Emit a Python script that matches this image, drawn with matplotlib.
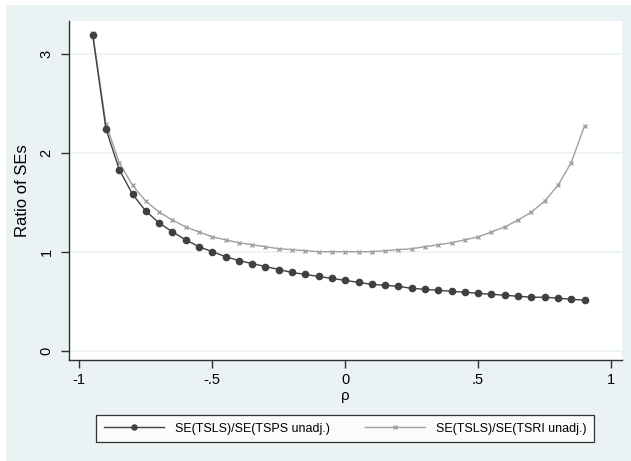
import numpy as np
import matplotlib
matplotlib.use("Agg")
import matplotlib.pyplot as plt
from matplotlib.patches import Rectangle

plt.rcParams['font.family'] = ['Liberation Sans', 'DejaVu Sans']

# correlation values
rho = [-0.95, -0.90, -0.85, -0.80, -0.75, -0.70, -0.65, -0.60, -0.55, -0.50,
       -0.45, -0.40, -0.35, -0.30, -0.25, -0.20, -0.15, -0.10, -0.05, 0.00,
       0.05, 0.10, 0.15, 0.20, 0.25, 0.30, 0.35, 0.40, 0.45, 0.50,
       0.55, 0.60, 0.65, 0.70, 0.75, 0.80, 0.85, 0.90]

# SE(TSLS)/SE(TSPS unadj.)
ratio_tsps = [3.19, 2.24, 1.83, 1.58, 1.41, 1.29, 1.20, 1.12, 1.05, 1.00,
              0.95, 0.91, 0.88, 0.85, 0.82, 0.79, 0.77, 0.75, 0.73, 0.71,
              0.69, 0.67, 0.66, 0.65, 0.63, 0.62, 0.61, 0.60, 0.59, 0.58,
              0.57, 0.56, 0.55, 0.54, 0.54, 0.53, 0.52, 0.51]

# SE(TSLS)/SE(TSRI unadj.)
ratio_tsri = [3.21, 2.29, 1.90, 1.67, 1.51, 1.40, 1.32, 1.25, 1.20, 1.15,
              1.12, 1.09, 1.07, 1.05, 1.03, 1.02, 1.01, 1.00, 1.00, 1.00,
              1.00, 1.00, 1.01, 1.02, 1.03, 1.05, 1.07, 1.09, 1.12, 1.15,
              1.20, 1.25, 1.32, 1.40, 1.51, 1.67, 1.90, 2.27]

labels = ['SE(TSLS)/SE(TSPS unadj.)', 'SE(TSLS)/SE(TSRI unadj.)']

W, H = 631, 461
bg = '#EAF2F3'
dark = '#404040'
light = '#A0A0A0'

fig = plt.figure(figsize=(W / 100, H / 100), dpi=100)
fig.patch.set_facecolor('white')
# outer graph region (light blue-gray)
fig.add_artist(Rectangle((6 / W, 0), 1 - 6 / W, 1 - 5 / H,
                         transform=fig.transFigure, facecolor=bg,
                         edgecolor='none', zorder=-10))

ax = fig.add_axes([69 / W, (H - 360) / H, (622 - 69) / W, (360 - 21) / H])
ax.set_facecolor('white')

ax.plot(rho, ratio_tsps, color=dark, lw=1.0, marker='o', ms=4.5,
        mec=dark, mfc=dark, label=labels[0], zorder=3)
ax.plot(rho, ratio_tsri, color=light, lw=1.0, marker='x', ms=3.5,
        mew=1.0, label=labels[1], zorder=2)

ax.set_xlim(-1.039, 1.041)
ax.set_ylim(-0.094, 3.33)
ax.set_xticks([-1, -0.5, 0, 0.5, 1])
ax.set_xticklabels(['-1', '-.5', '0', '.5', '1'])
ax.set_yticks([0, 1, 2, 3])
ax.set_yticklabels(['0', '1', '2', '3'], rotation=90, va='center')

ax.yaxis.grid(True, color=bg, lw=1.2, zorder=0)
ax.set_axisbelow(True)

for s in ['top', 'right']:
    ax.spines[s].set_visible(False)
for s in ['left', 'bottom']:
    ax.spines[s].set_color('#303030')
    ax.spines[s].set_linewidth(1.0)

ax.tick_params(axis='both', direction='out', length=6, width=1.0,
               color='#303030', labelsize=10.5, labelcolor='black')
ax.tick_params(axis='x', pad=3)
ax.tick_params(axis='y', pad=5)

ax.set_xlabel('ρ', fontsize=11, labelpad=2)
ax.set_ylabel('Ratio of SEs', fontsize=12, labelpad=7)

leg = fig.legend(loc='lower left', ncol=2,
                 bbox_to_anchor=(96 / W, (H - 442) / H, (594 - 96) / W, 29 / H),
                 mode='expand', fontsize=9, handlelength=4.8, markerscale=0.8,
                 frameon=True, fancybox=False, borderaxespad=0,
                 borderpad=0.6, columnspacing=2.0, handletextpad=0.9)
leg.get_frame().set_edgecolor('black')
leg.get_frame().set_linewidth(0.9)
leg.get_frame().set_facecolor('white')

fig.savefig('out.png', dpi=100, facecolor=fig.get_facecolor())
